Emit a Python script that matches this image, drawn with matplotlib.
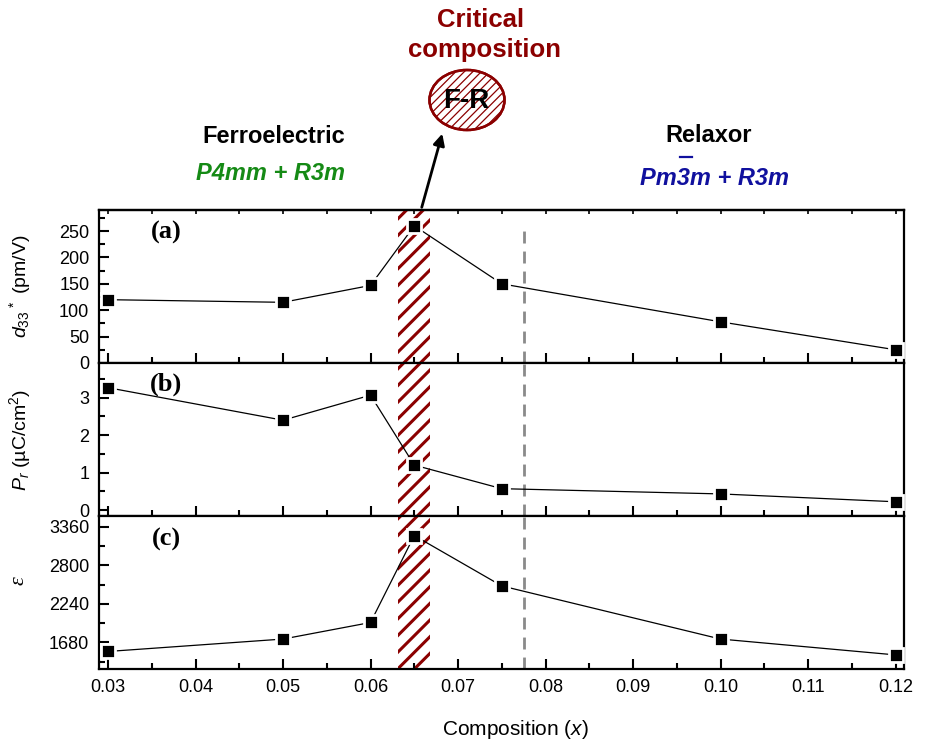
import matplotlib
matplotlib.use("Agg")
import matplotlib.pyplot as plt
from matplotlib.patches import Ellipse, FancyArrowPatch
from matplotlib.lines import Line2D
from matplotlib.ticker import MultipleLocator, FixedLocator
import numpy as np

# Measured properties versus composition x
composition = [0.03, 0.05, 0.06, 0.065, 0.075, 0.10, 0.12]
d33 = [120, 115, 147, 260, 150, 78, 25]          # pm/V
pr = [3.27, 2.40, 3.07, 1.20, 0.57, 0.43, 0.22]  # uC/cm^2
eps = [1550, 1730, 1970, 3230, 2500, 1730, 1500]

critical_band = (0.0631, 0.0668)
relaxor_boundary = 0.0775

x_ticks = [0.03, 0.04, 0.05, 0.06, 0.07, 0.08, 0.09, 0.10, 0.11, 0.12]
x_tick_labels = ["0.03", "0.04", "0.05", "0.06", "0.07", "0.08", "0.09", "0.10", "0.11", "0.12"]
eps_ticks = [1680, 2240, 2800, 3360]

DARKRED = "#8b0000"
GREEN = "#158a15"
BLUE = "#10109e"

plt.rcParams["font.family"] = ["Liberation Sans", "DejaVu Sans"]
plt.rcParams["mathtext.fontset"] = "custom"
plt.rcParams["mathtext.rm"] = "Liberation Sans"
plt.rcParams["mathtext.it"] = "Liberation Sans:italic"
plt.rcParams["mathtext.bf"] = "Liberation Sans:bold"
plt.rcParams["hatch.linewidth"] = 2.2

fig = plt.figure(figsize=(9.33, 7.42), dpi=100)
gs = fig.add_gridspec(3, 1, left=0.1061, right=0.969, bottom=0.0984, top=0.717, hspace=0)
ax_a = fig.add_subplot(gs[0])
ax_b = fig.add_subplot(gs[1], sharex=ax_a)
ax_c = fig.add_subplot(gs[2], sharex=ax_a)
axes = [ax_a, ax_b, ax_c]
series = [d33, pr, eps]

for ax, vals in zip(axes, series):
    ax.axvspan(*critical_band, facecolor="none", edgecolor=DARKRED, hatch="//",
               linewidth=0, zorder=1)
    ax.plot(composition, vals, color="black", lw=0.9, marker="s", ms=10.5,
            mfc="black", mec="white", mew=2.0, zorder=3, clip_on=False)
    for s in ax.spines.values():
        s.set_linewidth(1.6)
    ax.tick_params(axis="both", which="major", direction="in", length=7.5,
                   width=1.5, labelsize=13)
    ax.tick_params(axis="both", which="minor", direction="in", length=4.5, width=1.5)
    ax.tick_params(axis="y", pad=7)
    ax.tick_params(axis="x", pad=7)
    ax.xaxis.set_minor_locator(MultipleLocator(0.005))

# dashed boundary between ferroelectric and relaxor regions
ax_a.axvline(relaxor_boundary, ymin=0, ymax=0.883, color="#8a8a8a", lw=2,
             dashes=(4.3, 2.9), zorder=2)
ax_b.axvline(relaxor_boundary, color="#8a8a8a", lw=2, dashes=(4.3, 2.9), zorder=2)
ax_c.axvline(relaxor_boundary, color="#8a8a8a", lw=2, dashes=(4.3, 2.9), zorder=2)

ax_a.set_xlim(0.02897, 0.12097)
ax_c.set_xticks(x_ticks)
ax_c.set_xticklabels(x_tick_labels)
for ax in (ax_a, ax_b):
    ax.tick_params(axis="x", labelbottom=False)

ax_a.set_ylim(0, 290)
ax_a.yaxis.set_major_locator(MultipleLocator(50))
ax_a.yaxis.set_minor_locator(MultipleLocator(25))

ax_b.set_ylim(-0.16, 3.93)
ax_b.yaxis.set_major_locator(MultipleLocator(1))
ax_b.yaxis.set_minor_locator(MultipleLocator(0.5))

ax_c.set_ylim(1296, 3514)
ax_c.yaxis.set_major_locator(FixedLocator(eps_ticks))
ax_c.yaxis.set_minor_locator(MultipleLocator(280))

# short ticks along the top of the upper panel
top = ax_a.secondary_xaxis("top")
top.set_xticks(x_ticks)
top.xaxis.set_minor_locator(MultipleLocator(0.005))
top.tick_params(which="both", direction="in", length=3, width=1.2, labeltop=False)
top.spines["top"].set_linewidth(1.6)

ax_a.set_ylabel(r"$d_{33}$$^{\,*}$ (pm/V)", fontsize=14)
ax_b.set_ylabel(r"$P_r$ (µC/cm$^2$)", fontsize=14)
ax_c.set_ylabel("ε", fontsize=16, fontstyle="italic", family="Liberation Serif")
ax_a.yaxis.set_label_coords(-0.082, 0.5)
ax_b.yaxis.set_label_coords(-0.082, 0.5)
ax_c.yaxis.set_label_coords(-0.088, 0.58)

for ax, lab, yy in zip(axes, ["(a)", "(b)", "(c)"], [0.85, 0.86, 0.846]):
    ax.text(0.0832, yy, lab, transform=ax.transAxes, ha="center", va="center",
            fontsize=19, fontweight="bold", family="Liberation Serif", zorder=5)

fig.text(0.552, 0.0094, "Composition ($x$)", ha="center", va="baseline", fontsize=15)

# region annotations above the panels
fig.text(0.5155, 0.9636, "Critical", ha="center", va="baseline", fontsize=18.5,
         fontweight="bold", color=DARKRED)
fig.text(0.5188, 0.9232, "composition", ha="center", va="baseline", fontsize=18.5,
         fontweight="bold", color=DARKRED)
fig.text(0.2937, 0.8073, "Ferroelectric", ha="center", va="baseline", fontsize=17,
         fontweight="bold")
fig.text(0.2894, 0.7574, "P4mm + R3m", ha="center", va="baseline", fontsize=17,
         fontweight="bold", fontstyle="italic", color=GREEN)
fig.text(0.7599, 0.8086, "Relaxor", ha="center", va="baseline", fontsize=17,
         fontweight="bold")
blue_kw = dict(fontsize=17, fontweight="bold", fontstyle="italic", color=BLUE,
               va="baseline", ha="left")
blue_x, blue_y = 0.686, 0.7507
fig.text(blue_x, blue_y, "Pm3m + R3m", **blue_kw)

# overbar on the "3" of Pm-3m
fig.canvas.draw()
renderer = fig.canvas.get_renderer()


def text_width(s):
    t = fig.text(blue_x, blue_y, s, **blue_kw)
    w = t.get_window_extent(renderer).width
    t.remove()
    return w


W, H = fig.bbox.width, fig.bbox.height
x0 = blue_x * W
w1, w2 = text_width("Pm"), text_width("Pm3")
bar_y = blue_y + 28 / H
fig.add_artist(Line2D([(x0 + w1 + 3) / W, (x0 + w2 + 2) / W], [bar_y, bar_y],
                      transform=fig.transFigure, color=BLUE, lw=1.6))

# hatched ellipse marking the F-R critical composition
ax_e = fig.add_axes([420 / 933, (742 - 138) / 742, 94 / 933, 76 / 742])
ax_e.set_xlim(420, 514)
ax_e.set_ylim(138, 62)
ax_e.axis("off")
ell = Ellipse((467, 100), 75, 60, facecolor="white", edgecolor=DARKRED, lw=1.8, zorder=1)
ax_e.add_patch(ell)
for xs in np.arange(330, 530, 8.5):
    ln, = ax_e.plot([xs, xs + 76], [138, 62], color=DARKRED, lw=0.9, zorder=2)
    ln.set_clip_path(ell)
ell2 = Ellipse((467, 100), 75, 60, facecolor="none", edgecolor=DARKRED, lw=1.8, zorder=3)
ax_e.add_patch(ell2)
ax_e.text(466.7, 108, "F-R", ha="center", va="baseline", fontsize=20,
          fontweight="bold", zorder=4)

# arrow from the critical band up to the ellipse
fig.add_artist(FancyArrowPatch((421 / 933, 1 - 210 / 742), (443 / 933, 1 - 131 / 742),
                               transform=fig.transFigure, arrowstyle="-|>",
                               mutation_scale=17, lw=2, color="black"))

fig.savefig("out.png", dpi=100)
